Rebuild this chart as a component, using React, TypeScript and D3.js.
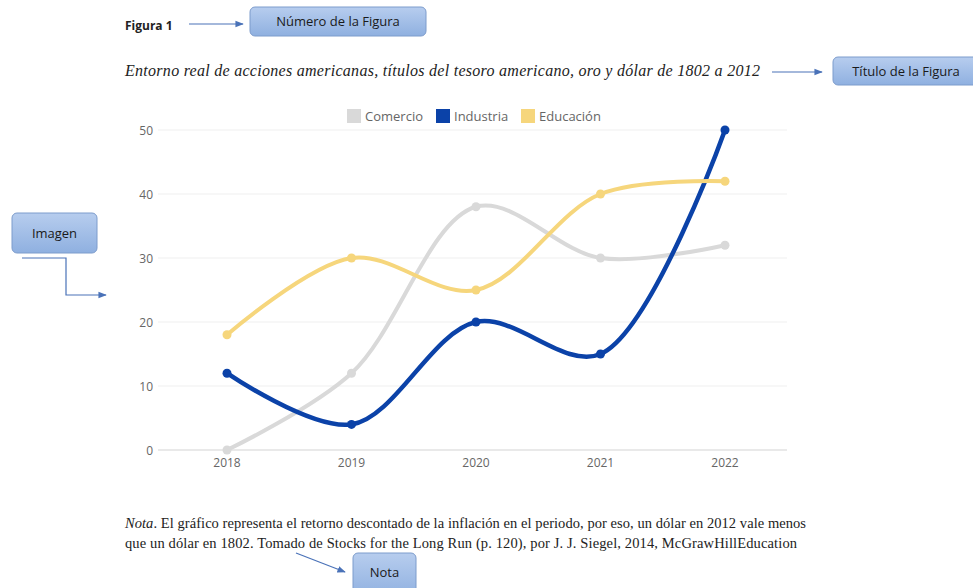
import React from "react";
import * as d3 from "d3";

const years = ["2018", "2019", "2020", "2021", "2022"];
const comercio = [0, 12, 38, 30, 32];
const industria = [12, 4, 20, 15, 50];
const educacion = [18, 30, 25, 40, 42];
const yTicks = [0, 10, 20, 30, 40, 50];
const seriesNames = ["Comercio", "Industria", "Educación"];
const seriesColors = ["#d9d9d9", "#0b42a8", "#f6d67c"];

const W = 973;
const H = 588;

function Callout({ x, y, w, h, text, fs = 13, ty }: { x: number; y: number; w: number; h: number; text: string; fs?: number; ty?: number }) {
  return (
    <g>
      <rect x={x} y={y} width={w} height={h} rx={5} fill="url(#boxGrad)" stroke="#7d9ccc" strokeWidth={1} />
      <text x={x + w / 2} y={ty !== undefined ? ty : y + h / 2 + 4.5} textAnchor="middle" fontFamily="'Open Sans', 'DejaVu Sans', sans-serif" fontSize={fs} fill="#1a1a1a">
        {text}
      </text>
    </g>
  );
}

export default function App() {
  const x = d3.scalePoint<string>().domain(years).range([227, 725]);
  const y = d3.scaleLinear().domain([0, 50]).range([450, 130]);
  const line = d3
    .line<number>()
    .x((_, i) => x(years[i]) as number)
    .y((d) => y(d))
    .curve(d3.curveCatmullRom.alpha(0.5));
  const data = [comercio, industria, educacion];
  const chartFont = "'Open Sans', 'DejaVu Sans', sans-serif";
  const serif = "'Liberation Serif', 'DejaVu Serif', serif";
  const legendX = [347, 436, 521];

  return (
    <svg width={W} height={H} style={{ position: "absolute", left: 0, top: 0, background: "#fff" }}>
      <defs>
        <linearGradient id="boxGrad" x1="0" y1="0" x2="0" y2="1">
          <stop offset="0%" stopColor="#b7cdee" />
          <stop offset="100%" stopColor="#8fb0e0" />
        </linearGradient>
        <marker id="arr" viewBox="0 0 10 10" refX="9" refY="5" markerWidth="7" markerHeight="7" orient="auto">
          <path d="M0,1 L10,5 L0,9 z" fill="#4a72b8" />
        </marker>
      </defs>

      {/* Figure number */}
      <text x={125} y={30} fontFamily="'Open Sans', 'DejaVu Sans', sans-serif" fontWeight="bold" fontSize={12} fill="#222">
        Figura 1
      </text>
      <line x1={189} y1={24} x2={243} y2={24} stroke="#4a72b8" strokeWidth={1.2} markerEnd="url(#arr)" />
      <Callout x={250} y={7} w={176} h={29} text="Número de la Figura" />

      {/* Title */}
      <text x={125} y={76} fontFamily={serif} fontStyle="italic" fontSize={16} fill="#222" textLength={635} lengthAdjust="spacing">
        Entorno real de acciones americanas, títulos del tesoro americano, oro y dólar de 1802 a 2012
      </text>
      <line x1={772} y1={72} x2={822} y2={72} stroke="#4a72b8" strokeWidth={1.2} markerEnd="url(#arr)" />
      <Callout x={833} y={57} w={146} h={28} text="Título de la Figura" />

      {/* Imagen */}
      <Callout x={12} y={213} w={85} h={40} text="Imagen" />
      <polyline points="22,258 66,258 66,295 106,295" fill="none" stroke="#4a72b8" strokeWidth={1.2} markerEnd="url(#arr)" />

      {/* Grid */}
      {yTicks.map((t) => (
        <g key={t}>
          <line x1={158} x2={787} y1={y(t)} y2={y(t)} stroke={t === 0 ? "#e2e2e2" : "#efefef"} strokeWidth={t === 0 ? 1.5 : 1} />
          <text x={153} y={y(t) + 4.5} textAnchor="end" fontFamily={chartFont} fontSize={12} fill="#666">
            {t}
          </text>
        </g>
      ))}
      {years.map((yr) => (
        <text key={yr} x={x(yr)} y={467} textAnchor="middle" fontFamily={chartFont} fontSize={12} fill="#666">
          {yr}
        </text>
      ))}

      {/* Legend */}
      {seriesNames.map((n, i) => (
        <g key={n}>
          <rect x={legendX[i]} y={109} width={14} height={14} fill={seriesColors[i]} />
          <text x={legendX[i] + 18} y={120.5} fontFamily={chartFont} fontSize={13} fill="#666">
            {n}
          </text>
        </g>
      ))}

      {/* Lines */}
      {data.map((s, si) => (
        <g key={si}>
          <path d={line(s) || ""} fill="none" stroke={seriesColors[si]} strokeWidth={si === 1 ? 4.5 : 4} strokeLinecap="round" />
          {s.map((v, i) => (
            <circle key={i} cx={x(years[i])} cy={y(v)} r={4.5} fill={seriesColors[si]} />
          ))}
        </g>
      ))}

      {/* Note */}
      <text x={125} y={528} fontFamily={serif} fontSize={14.5} fill="#222" textLength={681} lengthAdjust="spacing">
        <tspan fontStyle="italic">Nota</tspan>
        <tspan>. El gráfico representa el retorno descontado de la inflación en el periodo, por eso, un dólar en 2012 vale menos</tspan>
      </text>
      <text x={125} y={548} fontFamily={serif} fontSize={14.5} fill="#222" textLength={672} lengthAdjust="spacing">
        que un dólar en 1802. Tomado de Stocks for the Long Run (p. 120), por J. J. Siegel, 2014, McGrawHillEducation
      </text>
      <line x1={296} y1={553} x2={345} y2={572} stroke="#4a72b8" strokeWidth={1.2} markerEnd="url(#arr)" />
      <Callout x={353} y={553} w={63} h={45} text="Nota" ty={577} />
    </svg>
  );
}
